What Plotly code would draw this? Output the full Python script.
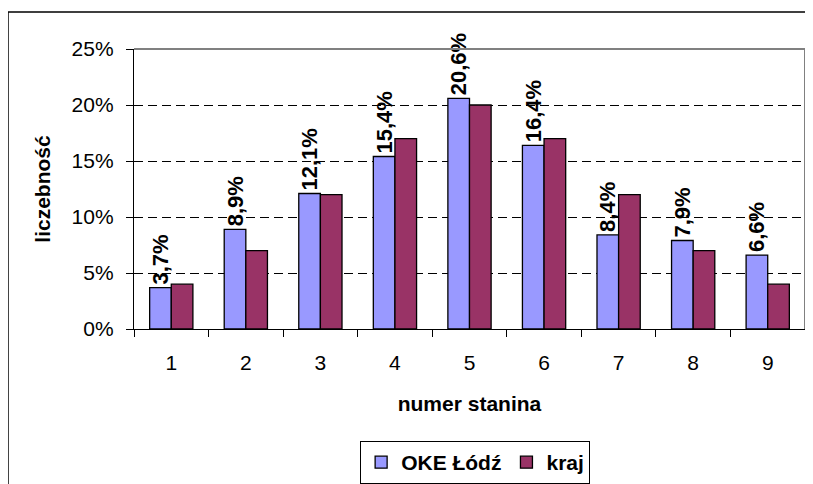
import plotly.graph_objects as go

categories = ["1", "2", "3", "4", "5", "6", "7", "8", "9"]
oke_lodz = [3.7, 8.9, 12.1, 15.4, 20.6, 16.4, 8.4, 7.9, 6.6]
kraj = [4, 7, 12, 17, 20, 17, 12, 7, 4]
oke_labels = ["3,7%", "8,9%", "12,1%", "15,4%", "20,6%", "16,4%", "8,4%", "7,9%", "6,6%"]
y_ticks = [0, 5, 10, 15, 20, 25]
y_tick_labels = ["0%", "5%", "10%", "15%", "20%", "25%"]

FONT = "Liberation Sans, Arial, sans-serif"

fig = go.Figure()
fig.add_trace(go.Bar(
    x=categories, y=oke_lodz, name="OKE Łódź",
    marker=dict(color="#9999FF", line=dict(color="black", width=1.3)),
    text=oke_labels, textposition="outside", textangle=-90,
    constraintext="none",
    textfont=dict(family=FONT, size=22, color="black", weight="bold"),
    cliponaxis=False,
))
fig.add_trace(go.Bar(
    x=categories, y=kraj, name="kraj",
    marker=dict(color="#993366", line=dict(color="black", width=1.3)),
))

fig.update_layout(
    width=813, height=484,
    margin=dict(l=126, r=16, t=41, b=163, autoexpand=False),
    paper_bgcolor="white", plot_bgcolor="white",
    font=dict(family=FONT, size=21, color="black"),
    barmode="group", bargap=0.42, bargroupgap=0,
    showlegend=True,
    legend=dict(
        orientation="h", x=0.337, y=-0.40, xanchor="left", yanchor="top",
        bordercolor="black", borderwidth=1,
        font=dict(family=FONT, size=21, color="black", weight="bold"),
        itemwidth=30, traceorder="normal",
    ),
)
fig.update_xaxes(
    type="category", showline=True, linecolor="black", linewidth=1.3,
    ticks="outside", tickson="boundaries", ticklen=7, tickcolor="black",
    ticklabelstandoff=15,
    showgrid=False, automargin=False,
    title=dict(text="numer stanina", standoff=22,
               font=dict(family=FONT, size=21, color="black", weight="bold")),
)
fig.update_yaxes(
    range=[0, 25], tickmode="array", tickvals=y_ticks, ticktext=y_tick_labels,
    showline=True, linecolor="black", linewidth=1.3,
    ticks="outside", ticklen=7, tickcolor="black",
    ticklabelstandoff=8,
    showgrid=True, gridcolor="black", gridwidth=1, griddash="9px,5px",
    zeroline=False, automargin=False,
    title=dict(text="liczebność", standoff=15,
               font=dict(family=FONT, size=21, color="black", weight="bold")),
)
# plot area gray border (top and right)
fig.add_shape(type="line", xref="paper", yref="paper", x0=0, x1=1, y0=1, y1=1,
              line=dict(color="#808080", width=2))
fig.add_shape(type="line", xref="paper", yref="paper", x0=1, x1=1, y0=0, y1=1,
              line=dict(color="#808080", width=2))
# outer chart border
fig.add_shape(type="rect", xref="paper", yref="paper",
              x0=-0.1878, x1=1.05, y0=-0.7, y1=1.132,
              line=dict(color="black", width=1.5))

fig.write_html("out.html")
